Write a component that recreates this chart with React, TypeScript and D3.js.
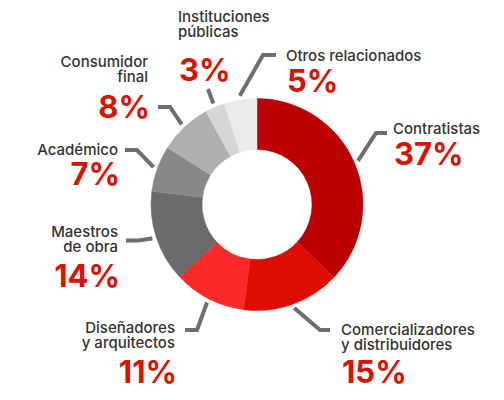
import React from "react";
import * as d3 from "d3";

const categories = [
  "Contratistas",
  "Comercializadores y distribuidores",
  "Diseñadores y arquitectos",
  "Maestros de obra",
  "Académico",
  "Consumidor final",
  "Instituciones públicas",
  "Otros relacionados",
];
const values = [37, 15, 11, 14, 7, 8, 3, 5];
const labelLines = [
  ["Contratistas"],
  ["Comercializadores", "y distribuidores"],
  ["Diseñadores", "y arquitectos"],
  ["Maestros", "de obra"],
  ["Académico"],
  ["Consumidor", "final"],
  ["Instituciones", "públicas"],
  ["Otros relacionados"],
];
const colors = ["#bb0000", "#dc0e00", "#fd2a2a", "#6b6b6b", "#888888", "#b0b0b0", "#d6d6d6", "#ebebeb"];

// layout of annotations: anchor, text x, first baseline, percent baseline, elbow, end of leader
const layout = [
  { anchor: "start", x: 393, y: 134, py: 165, elbow: [376, 133], end: [387, 133] },
  { anchor: "start", x: 341, y: 335, py: 383, elbow: [320, 330], end: [330, 330] },
  { anchor: "end", x: 175, y: 333, py: 383, elbow: [197, 330], end: [185, 330] },
  { anchor: "end", x: 118, y: 237, py: 287, elbow: [138, 240.5], end: [126, 240.5] },
  { anchor: "end", x: 118, y: 155, py: 185, elbow: [137, 150], end: [125, 150] },
  { anchor: "end", x: 148, y: 66.5, py: 118, elbow: [170, 107], end: [158, 107] },
  { anchor: "start", x: 178, y: 21.5, py: 81, elbow: null, end: [208, 89] },
  { anchor: "start", x: 286, y: 60.5, py: 91.5, elbow: [263, 55], end: [276, 55] },
];

const W = 504, H = 400;
const cx = 257, cy = 204.5;
const rOuter = 106, rInner = 55, rLead = 110;

export default function App() {
  const pie = d3.pie<number>().sort(null).value((d) => d)(values);
  const arc = d3.arc<d3.PieArcDatum<number>>().innerRadius(rInner).outerRadius(rOuter);
  return (
    <svg width={W} height={H} style={{ position: "absolute", left: 0, top: 0, background: "#fff" }}>
      <g transform={`translate(${cx},${cy})`}>
        {pie.map((p, i) => (
          <path key={categories[i]} d={arc(p) || ""} fill={colors[i]} stroke={colors[i]} strokeWidth={0.5} />
        ))}
      </g>
      {pie.map((p, i) => {
        const mid = (p.startAngle + p.endAngle) / 2;
        const sx = cx + Math.sin(mid) * rLead;
        const sy = cy - Math.cos(mid) * rLead;
        const L = layout[i];
        const pts: number[][] = [[sx, sy]];
        if (L.elbow) pts.push(L.elbow);
        pts.push(L.end);
        const line = d3.line()(pts as [number, number][]) || "";
        return (
          <path key={"l" + i} d={line} fill="none" stroke="#6e6e6e" strokeWidth={4} strokeLinecap="butt" strokeLinejoin="miter" />
        );
      })}
      {labelLines.map((lines, i) => {
        const L = layout[i];
        return (
          <g key={"t" + i} textAnchor={L.anchor as any}>
            <text x={L.x} y={L.y} fontFamily="Inter" fontSize={15} fontWeight={500} fill="#333333">
              {lines.map((ln, j) => (
                <tspan key={j} x={L.x} dy={j === 0 ? 0 : 15}>
                  {ln}
                </tspan>
              ))}
            </text>
            <text x={L.x + (L.anchor === "start" ? 1 : 2)} y={L.py} fontFamily="Inter" fontSize={31} fontWeight={700} fill="#dd1100">
              {values[i] + "%"}
            </text>
          </g>
        );
      })}
    </svg>
  );
}
